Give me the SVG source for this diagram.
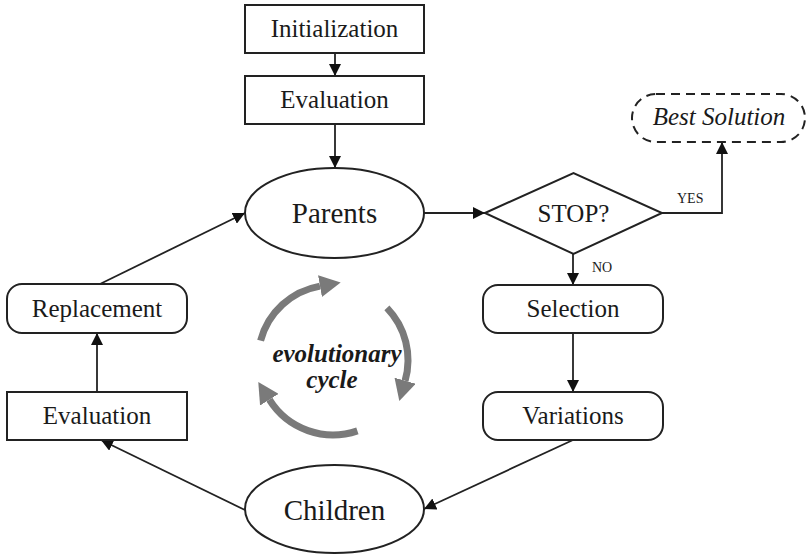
<svg xmlns="http://www.w3.org/2000/svg" width="807" height="556" viewBox="0 0 807 556">
<defs>
<style>
.box{fill:#fff;stroke:#222;stroke-width:2}
.t{font-family:"Liberation Serif","Times New Roman",serif;font-size:25px;fill:#1a1a1a;text-anchor:middle}
.big{font-size:29px}
.small{font-family:"Liberation Serif","Times New Roman",serif;font-size:14px;fill:#1a1a1a}
.conn{fill:none;stroke:#222;stroke-width:1.8;marker-end:url(#ah)}
.cyc{fill:none;stroke:#7a7a7a;stroke-width:7;marker-end:url(#gh)}
</style>
<marker id="ah" markerWidth="12" markerHeight="12" refX="12" refY="6" orient="auto" markerUnits="userSpaceOnUse"><path d="M0,0 L12,6 L0,12 z" fill="#111"/></marker>
<marker id="gh" markerWidth="22" markerHeight="22" refX="0" refY="11" orient="auto" markerUnits="userSpaceOnUse"><path d="M0,0 L21,11 L0,22 z" fill="#7a7a7a"/></marker>
</defs>
<rect width="807" height="556" fill="#fff"/>
<g id="connectors">
<path class="conn" d="M335,53 V76"/>
<path class="conn" d="M335,124 V168"/>
<path class="conn" d="M424,213 H485"/>
<path class="conn" d="M662,213 H722 V142"/>
<path class="conn" d="M573,254 V285"/>
<path class="conn" d="M573,333 V392"/>
<path class="conn" d="M573,440 L424,509"/>
<path class="conn" d="M245,510 L101,440"/>
<path class="conn" d="M97,392 V333"/>
<path class="conn" d="M100,284 L245,213"/>
<text class="small" x="677" y="203">YES</text>
<text class="small" x="592" y="272">NO</text>
</g>
<g id="init"><rect class="box" x="245" y="5" width="179" height="48"/><text class="t" x="334.5" y="37">Initialization</text></g>
<g id="eval1"><rect class="box" x="245" y="76" width="179" height="48"/><text class="t" x="334.5" y="108">Evaluation</text></g>
<g id="parents"><ellipse class="box" cx="334.5" cy="213" rx="89.5" ry="45"/><text class="t big" x="334.5" y="223">Parents</text></g>
<g id="stop"><polygon class="box" points="485,213 573.5,173 662,213 573.5,254"/><text class="t" x="573.5" y="222">STOP?</text></g>
<g id="best"><rect class="box" x="632" y="94" width="173" height="48" rx="24" stroke-dasharray="9,6"/><text class="t" x="719" y="125" font-style="italic">Best Solution</text></g>
<g id="selection"><rect class="box" x="483" y="285" width="180" height="48" rx="15"/><text class="t" x="573" y="317">Selection</text></g>
<g id="variations"><rect class="box" x="483" y="392" width="180" height="48" rx="15"/><text class="t" x="573" y="424">Variations</text></g>
<g id="children"><ellipse class="box" cx="334.5" cy="509" rx="89.5" ry="44"/><text class="t big" x="334.5" y="520">Children</text></g>
<g id="eval2"><rect class="box" x="7" y="392" width="180" height="48"/><text class="t" x="97" y="424">Evaluation</text></g>
<g id="replacement"><rect class="box" x="7" y="284" width="180" height="49" rx="15"/><text class="t" x="97" y="317">Replacement</text></g>
<g id="cycle">
<path class="cyc" d="M260.6,340.6 A75,75 0 0 1 320,286.1"/>
<path class="cyc" d="M386.9,307.9 A75,75 0 0 1 405.1,380.7"/>
<path class="cyc" d="M357.4,430.9 A75,75 0 0 1 269.4,399.7"/>
<text class="t" x="337" y="362" font-weight="bold" font-style="italic" font-size="24">evolutionary</text>
<text class="t" x="332" y="388" font-weight="bold" font-style="italic" font-size="24">cycle</text>
</g>
</svg>
